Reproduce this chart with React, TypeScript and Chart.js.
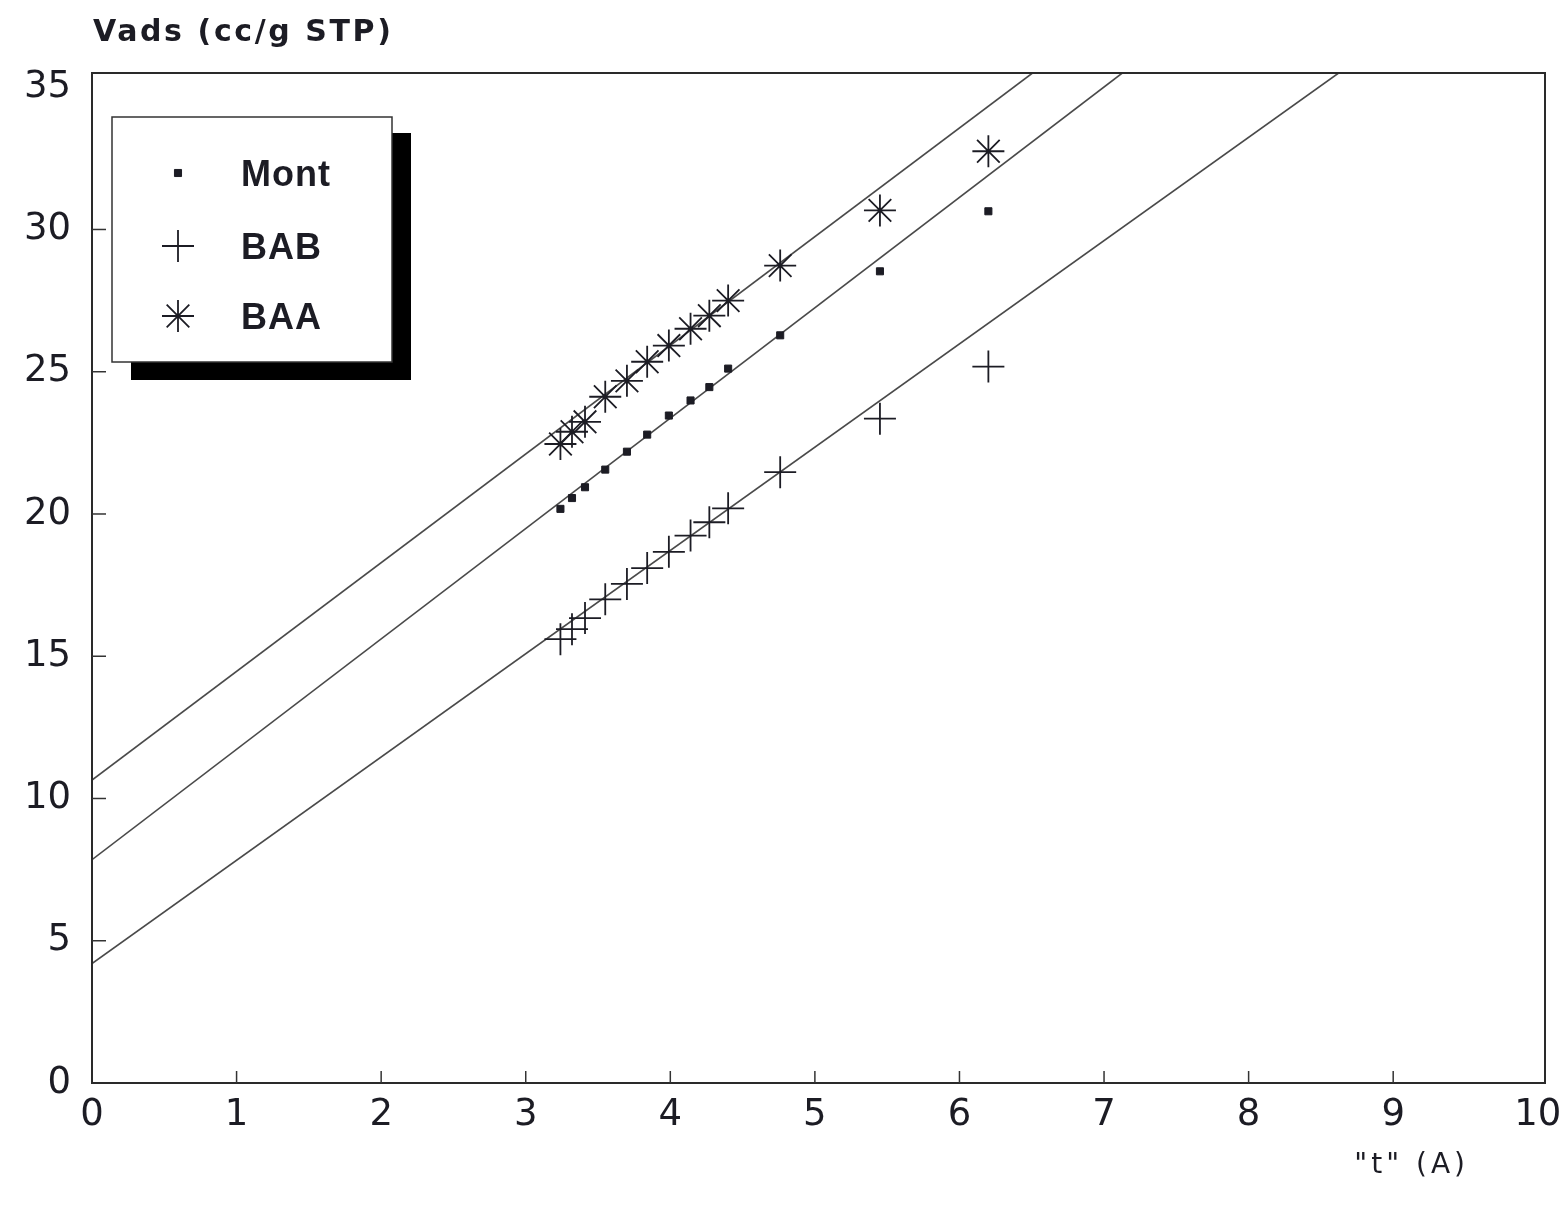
import { useEffect, useRef } from "react";
import { Chart, registerables } from "chart.js";
import { drawPoint } from "chart.js/helpers";

Chart.register(...registerables);

// ---- data ----
const tValues = [3.24, 3.32, 3.41, 3.55, 3.70, 3.84, 3.99, 4.14, 4.27, 4.40, 4.76, 5.45, 6.20];
const montValues = [20.18, 20.56, 20.94, 21.56, 22.19, 22.79, 23.46, 23.99, 24.46, 25.11, 26.28, 28.53, 30.64];
const babValues = [15.6, 15.95, 16.34, 17.0, 17.54, 18.1, 18.67, 19.24, 19.71, 20.2, 21.47, 23.35, 25.18];
const baaValues = [22.46, 22.89, 23.24, 24.12, 24.68, 25.35, 25.92, 26.51, 26.97, 27.5, 28.73, 30.67, 32.75];
const seriesNames = ["Mont", "BAB", "BAA"];
// fitted straight lines (Mont, BAB, BAA): Vads = intercept + slope * t
const fitIntercepts = [7.85, 4.2, 10.65];
const fitSlopes = [3.88, 3.63, 3.82];
const xTicks = [0, 1, 2, 3, 4, 5, 6, 7, 8, 9, 10];
const yTicks = [0, 5, 10, 15, 20, 25, 30, 35];
const xTitle = '"t" (A)';
const yTitle = "Vads (cc/g STP)";

const X_MIN = 0;
const X_MAX = 10.05;
const Y_MIN = 0;
const Y_MAX = 35.5;

const INK = "#1c1c24";
const LINE_INK = "#4a4a4a";

function fitLine(i: number) {
  const b = fitIntercepts[i];
  const m = fitSlopes[i];
  const xEnd = Math.min(X_MAX, (Y_MAX - b) / m);
  return [
    { x: X_MIN, y: b + m * X_MIN },
    { x: xEnd, y: b + m * xEnd },
  ];
}

const pts = (ys: number[]) => tValues.map((x, i) => ({ x, y: ys[i] }));

const decorPlugin = {
  id: "decor",
  afterDraw(chart: any) {
    const { ctx, chartArea: a, scales } = chart;
    ctx.save();
    // frame
    ctx.strokeStyle = "#2a2a2a";
    ctx.lineWidth = 2;
    ctx.strokeRect(a.left, a.top, a.right - a.left, a.bottom - a.top);

    // inward tick marks
    ctx.lineWidth = 1.5;
    ctx.strokeStyle = "#333";
    xTicks.slice(1, -1).forEach((v) => {
      const px = scales.x.getPixelForValue(v);
      ctx.beginPath();
      ctx.moveTo(px, a.bottom);
      ctx.lineTo(px, a.bottom - 12);
      ctx.stroke();
    });
    yTicks.slice(1, -1).forEach((v) => {
      const py = scales.y.getPixelForValue(v);
      ctx.beginPath();
      ctx.moveTo(a.left, py);
      ctx.lineTo(a.left + 14, py);
      ctx.stroke();
    });

    // axis titles
    ctx.fillStyle = INK;
    ctx.textBaseline = "alphabetic";
    ctx.textAlign = "left";
    (ctx as any).letterSpacing = "2.6px";
    ctx.font = 'bold 30px "DejaVu Sans"';
    ctx.fillText(yTitle, a.left + 1, a.top - 32);
    (ctx as any).letterSpacing = "4px";
    ctx.font = '28px "DejaVu Sans"';
    ctx.textAlign = "right";
    ctx.fillText(xTitle, a.right - 76, a.bottom + 90);

    // legend box with drop shadow
    const bx = a.left + 20;
    const by = a.top + 44;
    const bw = 280;
    const bh = 245;
    ctx.fillStyle = "#000";
    ctx.fillRect(bx + 19, by + 16, bw, bh + 2);
    ctx.fillStyle = "#fff";
    ctx.fillRect(bx, by, bw, bh);
    ctx.strokeStyle = "#333";
    ctx.lineWidth = 1.5;
    ctx.strokeRect(bx, by, bw, bh);

    const rowY = [by + 56, by + 129, by + 199];
    chart.data.datasets.slice(0, 3).forEach((ds: any, i: number) => {
      const mx = bx + 66;
      const my = rowY[i];
      ctx.strokeStyle = ds.borderColor;
      ctx.fillStyle = ds.backgroundColor;
      ctx.lineWidth = ds.borderWidth;
      drawPoint(
        ctx,
        { pointStyle: ds.pointStyle, radius: ds.pointRadius, borderWidth: ds.borderWidth, rotation: 0 },
        mx,
        my
      );
      ctx.fillStyle = INK;
      ctx.textAlign = "left";
      ctx.textBaseline = "middle";
      (ctx as any).letterSpacing = "1px";
      ctx.font = 'bold 36px "Liberation Sans"';
      ctx.fillText(ds.label, bx + 129, my + 3);
    });
    ctx.restore();
  },
};

export default function App() {
  const ref = useRef<HTMLCanvasElement | null>(null);

  useEffect(() => {
    if (!ref.current) return;
    const lineDs = (i: number) => ({
      label: "fit " + seriesNames[i],
      data: fitLine(i),
      showLine: true,
      borderColor: LINE_INK,
      borderWidth: 1.6,
      pointRadius: 0,
      fill: false,
    });
    const chart = new Chart(ref.current, {
      type: "scatter",
      data: {
        datasets: [
          {
            label: seriesNames[0],
            data: pts(montValues),
            pointStyle: "rect",
            pointRadius: 5,
            borderWidth: 1,
            borderColor: INK,
            backgroundColor: INK,
          },
          {
            label: seriesNames[1],
            data: pts(babValues),
            pointStyle: "cross",
            pointRadius: 16,
            borderWidth: 1.8,
            borderColor: INK,
            backgroundColor: INK,
          },
          {
            label: seriesNames[2],
            data: pts(baaValues),
            pointStyle: "star",
            pointRadius: 16,
            borderWidth: 1.8,
            borderColor: INK,
            backgroundColor: INK,
          },
          lineDs(0),
          lineDs(1),
          lineDs(2),
        ] as any,
      },
      options: {
        animation: false,
        responsive: false,
        maintainAspectRatio: false,
        layout: { padding: { top: 73, right: 23, left: 0, bottom: 0 } },
        plugins: {
          legend: { display: false },
          tooltip: { enabled: false },
        },
        scales: {
          x: {
            type: "linear",
            min: X_MIN,
            max: X_MAX,
            grid: { display: false, drawTicks: false },
            border: { display: false },
            afterBuildTicks: (s: any) => {
              s.ticks = xTicks.map((v) => ({ value: v }));
            },
            afterFit: (s: any) => {
              s.height = 1206 - 1083;
              s.paddingLeft = 0;
              s.paddingRight = 0;
            },
            ticks: {
              color: INK,
              padding: 10,
              maxRotation: 0,
              autoSkip: false,
              font: { family: '"DejaVu Sans"', size: 37 },
            },
          },
          y: {
            type: "linear",
            min: Y_MIN,
            max: Y_MAX,
            grid: { display: false, drawTicks: false },
            border: { display: false },
            afterBuildTicks: (s: any) => {
              s.ticks = yTicks.map((v) => ({ value: v }));
            },
            afterFit: (s: any) => {
              s.width = 92;
              s.paddingTop = 0;
              s.paddingBottom = 0;
            },
            ticks: {
              color: INK,
              padding: 21,
              autoSkip: false,
              font: { family: '"DejaVu Sans"', size: 37 },
            },
          },
        },
      },
      plugins: [decorPlugin],
    });
    return () => chart.destroy();
  }, []);

  return (
    <div style={{ position: "fixed", left: 0, top: 0, width: 1568, height: 1206, background: "#fff" }}>
      <canvas ref={ref} width={1568} height={1206} style={{ display: "block" }} />
    </div>
  );
}
